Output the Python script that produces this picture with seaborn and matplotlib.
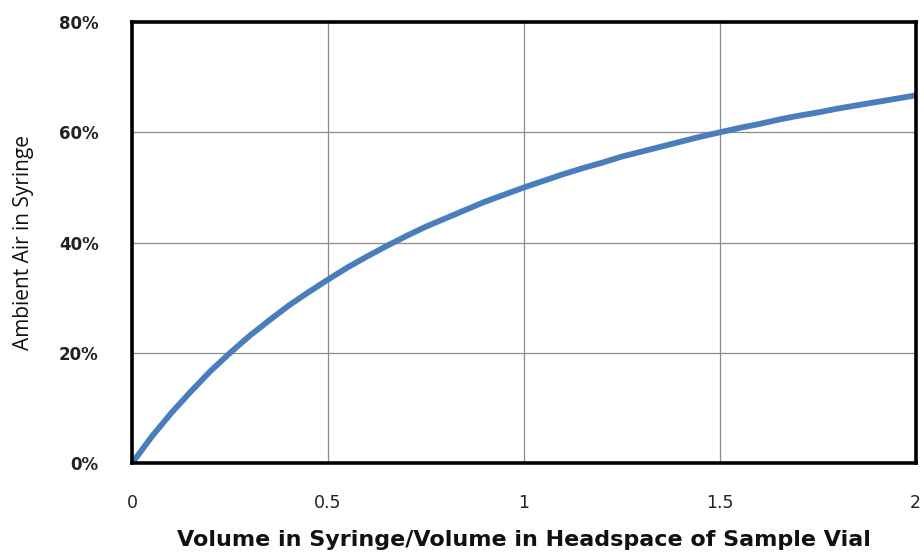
import seaborn as sns
import matplotlib.pyplot as plt
import pandas as pd

# values
volume_ratio = [0.0, 0.05, 0.1, 0.15, 0.2, 0.25, 0.3, 0.35, 0.4, 0.45, 0.5,
                0.55, 0.6, 0.65, 0.7, 0.75, 0.8, 0.85, 0.9, 0.95, 1.0,
                1.05, 1.1, 1.15, 1.2, 1.25, 1.3, 1.35, 1.4, 1.45, 1.5,
                1.55, 1.6, 1.65, 1.7, 1.75, 1.8, 1.85, 1.9, 1.95, 2.0]
ambient_air = [0.0, 0.048, 0.091, 0.130, 0.167, 0.2, 0.231, 0.259, 0.286, 0.310, 0.333,
               0.355, 0.375, 0.394, 0.412, 0.429, 0.444, 0.459, 0.474, 0.487, 0.5,
               0.512, 0.524, 0.535, 0.545, 0.556, 0.565, 0.574, 0.583, 0.592, 0.6,
               0.608, 0.615, 0.623, 0.63, 0.636, 0.643, 0.649, 0.655, 0.661, 0.667]
x_ticks = [0, 0.5, 1, 1.5, 2]
x_tick_labels = ["0", "0.5", "1", "1.5", "2"]
y_ticks = [0, 0.2, 0.4, 0.6, 0.8]
y_tick_labels = ["0%", "20%", "40%", "60%", "80%"]

df = pd.DataFrame({"ratio": volume_ratio, "air": ambient_air})

sns.set_style("white")
plt.rcParams['font.family'] = ['DejaVu Sans']

fig = plt.figure(figsize=(9.24, 5.52), dpi=100)
ax = fig.add_axes([0.143, 0.161, 0.848, 0.799])

sns.lineplot(data=df, x="ratio", y="air", ax=ax, color="#4a7ebb", linewidth=4.2)
ax.lines[0].set_solid_joinstyle("round")
ax.lines[0].set_solid_capstyle("round")

ax.set_xlim(0, 2)
ax.set_ylim(0, 0.8)
ax.set_xticks(x_ticks)
ax.set_xticklabels(x_tick_labels, fontsize=12.5, color="#222222")
ax.set_yticks(y_ticks)
ax.set_yticklabels(y_tick_labels, fontsize=12, fontweight="bold", color="#222222")
ax.tick_params(axis="x", length=0, pad=22)
ax.tick_params(axis="y", length=0, pad=24)
ax.grid(True, color="#8c8c8c", linewidth=0.9)
ax.set_axisbelow(True)

for s in ax.spines.values():
    s.set_visible(True)
    s.set_color("black")
    s.set_linewidth(2.6)

ax.set_xlabel("Volume in Syringe/Volume in Headspace of Sample Vial",
              fontsize=16, fontweight="bold", labelpad=13, color="#111111")
ax.set_ylabel("Ambient Air in Syringe", fontsize=15, family="Open Sans",
              labelpad=18, color="#111111")

fig.savefig("out.png", dpi=100)
